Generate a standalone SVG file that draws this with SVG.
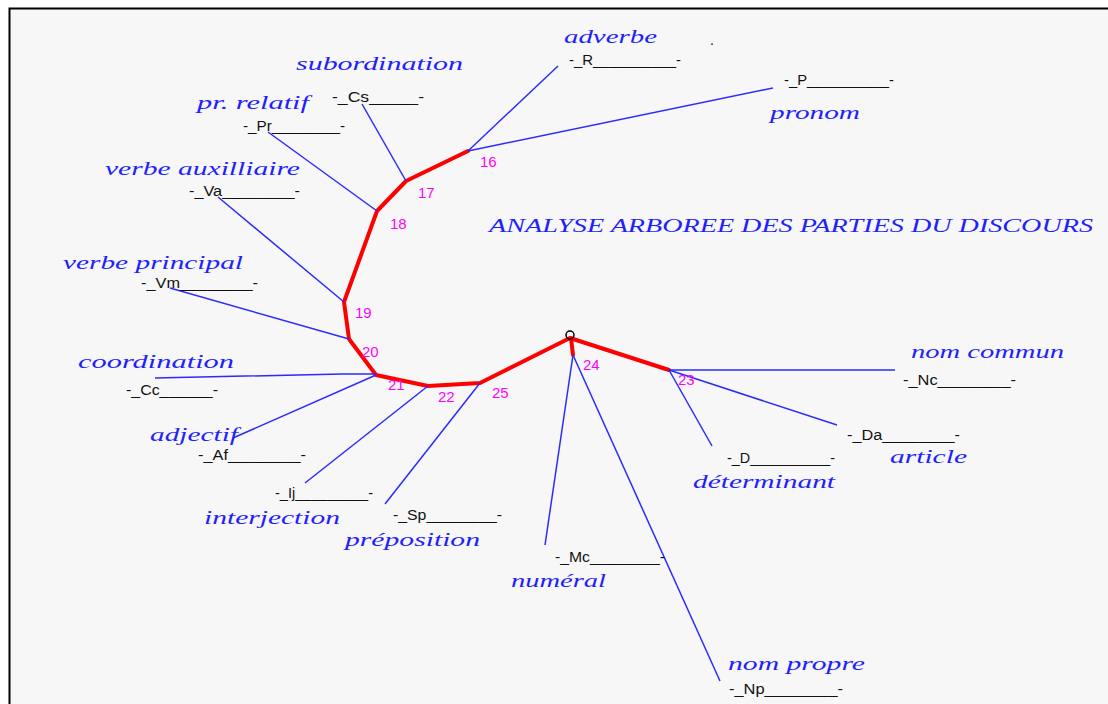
<svg xmlns="http://www.w3.org/2000/svg" width="1108" height="704" viewBox="0 0 1108 704">
<style>
.lbl{font-family:"Liberation Serif","DejaVu Serif",serif;font-style:italic;font-size:19px;fill:#1f1fff;}
.ttl{font-family:"Liberation Serif","DejaVu Serif",serif;font-style:italic;font-size:18px;fill:#1f1fff;}
.code{font-family:"Liberation Sans","DejaVu Sans",sans-serif;font-size:14px;fill:#111;}
.num{font-family:"Liberation Sans","DejaVu Sans",sans-serif;font-size:15px;fill:#ff00ff;}
.blue{stroke:#2b2bff;stroke-width:1.5;fill:none;}
.red{stroke:#ff0000;stroke-width:4;fill:none;stroke-linejoin:round;stroke-linecap:round;}
</style>
<rect x="0" y="0" width="1108" height="704" fill="#ffffff"/>
<rect x="9.5" y="8.5" width="1100" height="700" fill="#f7f7f7" stroke="#000" stroke-width="2"/>
<g id="connectors">
<polyline class="red" points="468,151 406,181 377,211 344,302 349,339 376,375 428,386 480,383 570,338 669,370"/>
<line class="red" x1="571" y1="338" x2="573" y2="355"/>
<circle cx="570" cy="335" r="4" fill="none" stroke="#000" stroke-width="1.5"/>
<line class="blue" x1="468" y1="151" x2="558" y2="66"/>
<line class="blue" x1="468" y1="151" x2="773" y2="88"/>
<line class="blue" x1="406" y1="181" x2="362" y2="104"/>
<line class="blue" x1="377" y1="211" x2="268" y2="132"/>
<line class="blue" x1="344" y1="302" x2="218" y2="197"/>
<line class="blue" x1="349" y1="339" x2="170" y2="288"/>
<polyline class="blue" points="155,378 342,374 376,374"/>
<line class="blue" x1="376" y1="375" x2="233" y2="438"/>
<line class="blue" x1="428" y1="386" x2="305" y2="483"/>
<line class="blue" x1="480" y1="383" x2="385" y2="504"/>
<line class="blue" x1="573" y1="355" x2="545" y2="545"/>
<line class="blue" x1="573" y1="355" x2="720" y2="681"/>
<line class="blue" x1="669" y1="370" x2="895" y2="370"/>
<line class="blue" x1="669" y1="370" x2="837" y2="425"/>
<line class="blue" x1="669" y1="370" x2="712" y2="446"/>
</g>
<g id="numbers">
<text class="num" x="480" y="167">16</text>
<text class="num" x="418" y="198">17</text>
<text class="num" x="390" y="229">18</text>
<text class="num" x="355" y="318">19</text>
<text class="num" x="362" y="357">20</text>
<text class="num" x="388" y="390">21</text>
<text class="num" x="438" y="402">22</text>
<text class="num" x="492" y="398">25</text>
<text class="num" x="583" y="370">24</text>
<text class="num" x="678" y="385">23</text>
</g>
<g id="title">
<text class="ttl" x="489" y="232" textLength="604" lengthAdjust="spacingAndGlyphs">ANALYSE ARBOREE DES PARTIES DU DISCOURS</text>
<text class="code" x="710" y="45">.</text>
</g>
<g id="node-adverbe">
<text class="lbl" x="564" y="43" textLength="93" lengthAdjust="spacingAndGlyphs">adverbe</text>
<text class="code" x="569" y="65" textLength="112" lengthAdjust="spacingAndGlyphs">-_R__________-</text>
</g>
<g id="node-pronom">
<text class="code" x="784" y="85" textLength="110" lengthAdjust="spacingAndGlyphs">-_P__________-</text>
<text class="lbl" x="770" y="119" textLength="90" lengthAdjust="spacingAndGlyphs">pronom</text>
</g>
<g id="node-subordination">
<text class="lbl" x="296" y="70" textLength="167" lengthAdjust="spacingAndGlyphs">subordination</text>
<text class="code" x="332" y="102" textLength="92" lengthAdjust="spacingAndGlyphs">-_Cs_____-</text>
</g>
<g id="node-pr-relatif">
<text class="lbl" x="197" y="109" textLength="112" lengthAdjust="spacingAndGlyphs">pr. relatif</text>
<text class="code" x="243" y="131" textLength="102" lengthAdjust="spacingAndGlyphs">-_Pr________-</text>
</g>
<g id="node-verbe-auxilliaire">
<text class="lbl" x="105" y="175" textLength="195" lengthAdjust="spacingAndGlyphs">verbe auxilliaire</text>
<text class="code" x="189" y="196" textLength="111" lengthAdjust="spacingAndGlyphs">-_Va________-</text>
</g>
<g id="node-verbe-principal">
<text class="lbl" x="63" y="269" textLength="180" lengthAdjust="spacingAndGlyphs">verbe principal</text>
<text class="code" x="141" y="288" textLength="117" lengthAdjust="spacingAndGlyphs">-_Vm________-</text>
</g>
<g id="node-coordination">
<text class="lbl" x="78" y="368" textLength="156" lengthAdjust="spacingAndGlyphs">coordination</text>
<text class="code" x="126" y="395" textLength="92" lengthAdjust="spacingAndGlyphs">-_Cc______-</text>
</g>
<g id="node-adjectif">
<text class="lbl" x="150" y="441" textLength="88" lengthAdjust="spacingAndGlyphs">adjectif</text>
<text class="code" x="198" y="460" textLength="108" lengthAdjust="spacingAndGlyphs">-_Af________-</text>
</g>
<g id="node-interjection">
<text class="code" x="275" y="498" textLength="98" lengthAdjust="spacingAndGlyphs">-_Ij_________-</text>
<text class="lbl" x="204" y="524" textLength="136" lengthAdjust="spacingAndGlyphs">interjection</text>
</g>
<g id="node-preposition">
<text class="code" x="393" y="520" textLength="109" lengthAdjust="spacingAndGlyphs">-_Sp________-</text>
<text class="lbl" x="345" y="546" textLength="135" lengthAdjust="spacingAndGlyphs">préposition</text>
</g>
<g id="node-numeral">
<text class="code" x="555" y="562" textLength="110" lengthAdjust="spacingAndGlyphs">-_Mc________-</text>
<text class="lbl" x="511" y="587" textLength="95" lengthAdjust="spacingAndGlyphs">numéral</text>
</g>
<g id="node-nom-propre">
<text class="lbl" x="728" y="670" textLength="137" lengthAdjust="spacingAndGlyphs">nom propre</text>
<text class="code" x="729" y="694" textLength="114" lengthAdjust="spacingAndGlyphs">-_Np________-</text>
</g>
<g id="node-determinant">
<text class="code" x="727" y="463" textLength="108" lengthAdjust="spacingAndGlyphs">-_D__________-</text>
<text class="lbl" x="693" y="488" textLength="142" lengthAdjust="spacingAndGlyphs">déterminant</text>
</g>
<g id="node-article">
<text class="code" x="847" y="440" textLength="113" lengthAdjust="spacingAndGlyphs">-_Da________-</text>
<text class="lbl" x="890" y="463" textLength="77" lengthAdjust="spacingAndGlyphs">article</text>
</g>
<g id="node-nom-commun">
<text class="lbl" x="911" y="358" textLength="153" lengthAdjust="spacingAndGlyphs">nom commun</text>
<text class="code" x="903" y="385" textLength="113" lengthAdjust="spacingAndGlyphs">-_Nc________-</text>
</g>
</svg>
